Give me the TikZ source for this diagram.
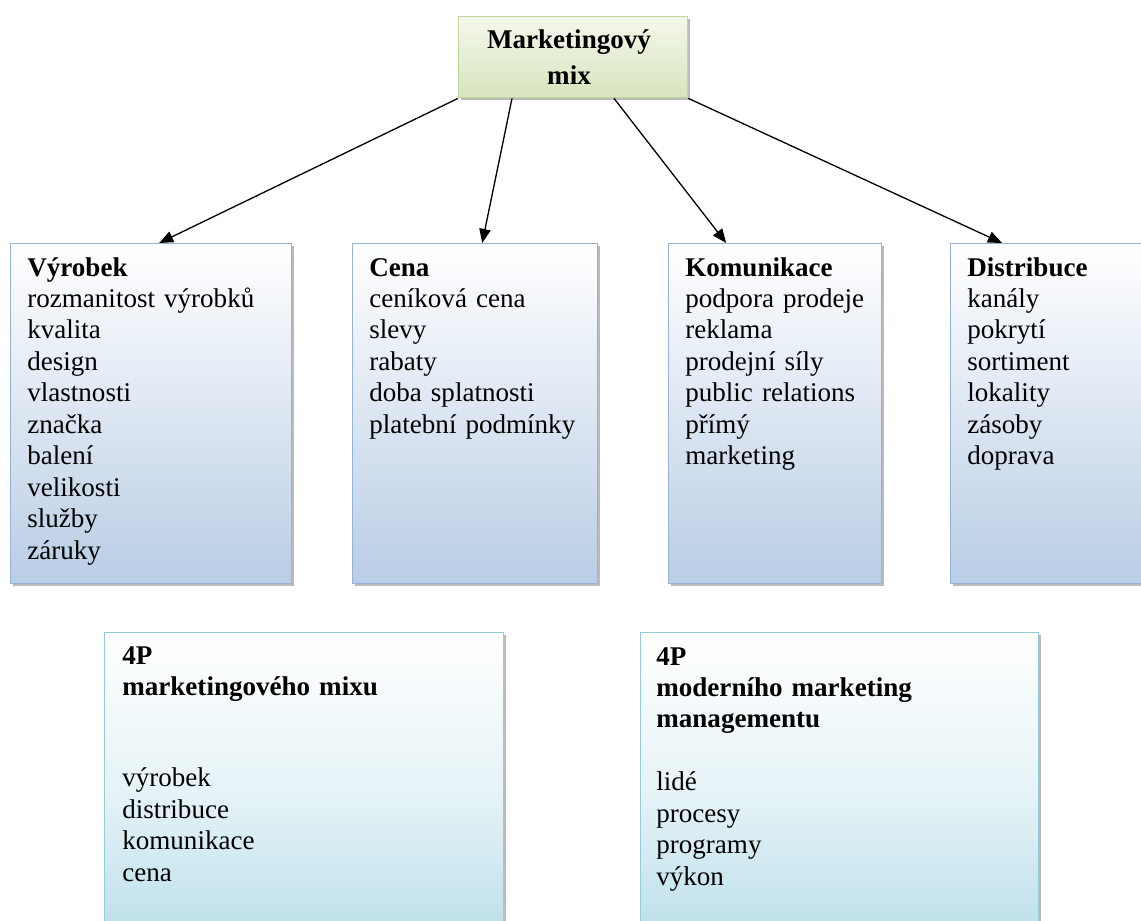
\documentclass[tikz,border=0pt]{standalone}
\usepackage{fontspec}
\setmainfont{Liberation Serif}
\usetikzlibrary{arrows.meta,calc,shadows}
\definecolor{mixline}{HTML}{C3D69B}
\definecolor{mixtop}{HTML}{F4F8EC}
\definecolor{mixbottom}{HTML}{D7E4BD}
\definecolor{pline}{HTML}{95B3D7}
\definecolor{pfill}{HTML}{B9CDE5}
\definecolor{qline}{HTML}{93CDDD}
\definecolor{qfill}{HTML}{B7DDE8}

\begin{document}
\begin{tikzpicture}[x=0.02cm,y=-0.02cm,
    boxshadow/.style={drop shadow={shadow xshift=0.045cm,shadow yshift=-0.05cm,fill=black!45,opacity=0.6}},
    mixbox/.style={draw=mixline,line width=0.8pt,top color=mixtop,bottom color=mixbottom,boxshadow,
      anchor=north west,inner sep=0pt,minimum width=4.58cm,minimum height=1.62cm},
    pbox/.style={draw=pline,line width=0.8pt,top color=white,bottom color=pfill,boxshadow,
      anchor=north west,inner sep=0pt,minimum height=6.8cm},
    qbox/.style={draw=qline,line width=0.8pt,top color=white,bottom color=qfill,middle color=qfill!35,boxshadow,
      anchor=north west,inner sep=0pt,minimum height=6.4cm},
    txt/.style={anchor=base west,inner sep=0pt,text width=7cm,align=left,
      font=\fontsize{15.4}{17.9}\selectfont},
    link/.style={line width=0.75pt,-{Triangle[length=8pt,width=6.5pt]}}]
  \useasboundingbox (0,0) rectangle (1141,920);
  \clip (0,0) rectangle (1141,920);

  % top box
  \node[mixbox] (mix) at (458,16) {};
  \node[anchor=base,inner sep=0pt,text width=4cm,align=center,
    font=\fontsize{15.4}{21}\selectfont\bfseries] (mixtxt) at (569,48) {Marketingový\\mix};

  % the four P
  \node[pbox,minimum width=5.62cm] (vyrobek) at (10,243) {};
  \node[pbox,minimum width=4.9cm] (cena) at (352,243) {};
  \node[pbox,minimum width=4.26cm] (komunikace) at (668,243) {};
  \node[pbox,minimum width=4.2cm] (distribuce) at (950,243) {};

  \node[txt] (vyrobektxt) at (27,276) {\textbf{Výrobek}\\rozmanitost výrobků\\kvalita\\design\\vlastnosti\\značka\\balení\\velikosti\\služby\\záruky};
  \node[txt] (cenatxt) at (369,276) {\textbf{Cena}\\ceníková cena\\slevy\\rabaty\\doba splatnosti\\platební podmínky};
  \node[txt] (komunikacetxt) at (685,276) {\textbf{Komunikace}\\podpora prodeje\\reklama\\prodejní síly\\public relations\\přímý\\marketing};
  \node[txt] (distribucetxt) at (967,276) {\textbf{Distribuce}\\kanály\\pokrytí\\sortiment\\lokality\\zásoby\\doprava};

  % arrows
  \draw[link] (mix.south west) -- ($(vyrobek.north)+(8,0)$);
  \draw[link] ($(mix.south west)+(54,0)$) -- ($(cena.north)+(7,0)$);
  \draw[link] ($(mix.south west)+(156,0)$) -- ($(komunikace.north)+(-49,0)$);
  \draw[link] (mix.south east) -- ($(distribuce.north west)+(52,0)$);

  % bottom boxes
  \node[qbox,minimum width=7.98cm] (mixp) at (104,632) {};
  \node[qbox,minimum width=7.96cm] (modernp) at (640,632) {};

  \node[txt] (mixptxt) at (122,664) {\textbf{4P}\\\textbf{marketingového mixu}\\[1.9\baselineskip]výrobek\\distribuce\\komunikace\\cena};
  \node[txt] (modernptxt) at (656,665) {\textbf{4P}\\\textbf{moderního marketing}\\\textbf{managementu}\\[\baselineskip]lidé\\procesy\\programy\\výkon};
\end{tikzpicture}
\end{document}
